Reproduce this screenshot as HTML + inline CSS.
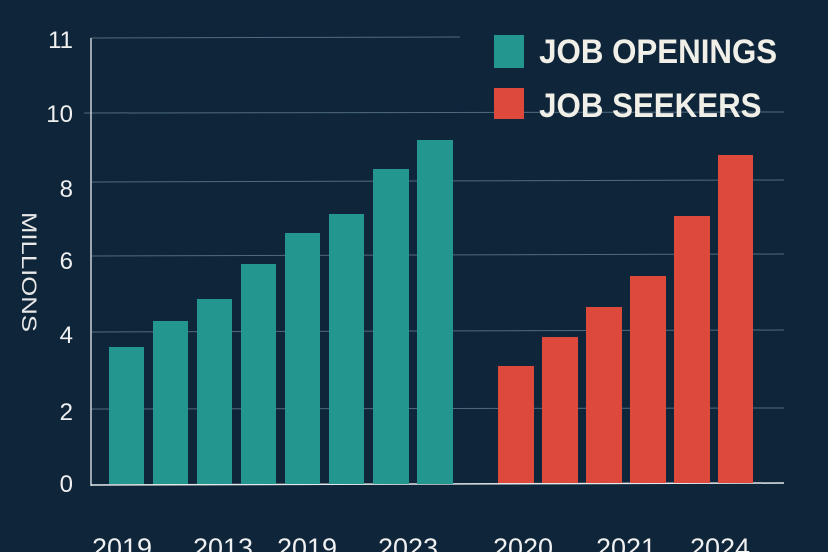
<!DOCTYPE html>
<html><head><meta charset="utf-8"><style>
html,body{margin:0;padding:0;background:#0f253a;}
svg{display:block}
</style></head><body>
<svg width="828" height="552" viewBox="0 0 828 552" xmlns="http://www.w3.org/2000/svg">
<rect width="828" height="552" fill="#0f253a"/>
<g stroke="#4f6c7e" stroke-width="1">
<line x1="91" y1="38" x2="460" y2="37"/>
<line x1="84" y1="113" x2="784" y2="112"/>
<line x1="91" y1="182" x2="784" y2="180"/>
<line x1="91" y1="256" x2="784" y2="254"/>
<line x1="91" y1="332" x2="784" y2="330"/>
<line x1="91" y1="409" x2="784" y2="408"/>
</g>
<line x1="91" y1="38" x2="91" y2="486" stroke="#c9d2d8" stroke-width="1.5"/>
<line x1="91" y1="485" x2="784" y2="483" stroke="#e4e8ea" stroke-width="1.5"/>
<g fill="#22968f">
<rect x="109" y="347" width="35" height="137"/>
<rect x="153" y="321" width="35" height="163"/>
<rect x="197" y="299" width="35" height="185"/>
<rect x="241" y="264" width="35" height="220"/>
<rect x="285" y="233" width="35" height="251"/>
<rect x="329" y="214" width="35" height="270"/>
<rect x="373" y="169" width="36" height="315"/>
<rect x="417" y="140" width="36" height="344"/>
</g>
<g fill="#dd4a3c">
<rect x="498" y="366" width="36" height="117"/>
<rect x="542" y="337" width="36" height="146"/>
<rect x="586" y="307" width="36" height="176"/>
<rect x="630" y="276" width="36" height="207"/>
<rect x="674" y="216" width="36" height="267"/>
<rect x="718" y="155" width="35" height="328"/>
</g>
<rect x="494" y="35" width="30" height="33" fill="#22968f"/>
<rect x="494" y="88" width="30" height="31" fill="#dd4a3c"/>
<g font-family="Liberation Sans, sans-serif" fill="#f0efe8" font-weight="bold" font-size="34" transform="scale(0.92,1)">
<text x="586" y="63">JOB OPENINGS</text>
<text x="586" y="117">JOB SEEKERS</text>
</g>
<g font-family="Liberation Sans, sans-serif" fill="#f0f0f0" font-size="24" text-anchor="end">
<text x="73" y="48">11</text>
<text x="73" y="122">10</text>
<text x="73" y="197">8</text>
<text x="73" y="269">6</text>
<text x="73" y="343">4</text>
<text x="73" y="420">2</text>
<text x="73" y="492">0</text>
</g>
<text x="0" y="0" transform="translate(22,272) rotate(90)" font-family="Liberation Sans, sans-serif" font-size="21" fill="#e8e8e8" text-anchor="middle" textLength="120" lengthAdjust="spacingAndGlyphs">MILLIONS</text>
<g font-family="Liberation Sans, sans-serif" fill="#f0f0f0" font-size="27">
<text x="92" y="557">2019</text>
<text x="193" y="557">2013</text>
<text x="277" y="557">2019</text>
<text x="378" y="557">2023</text>
<text x="493" y="557">2020</text>
<text x="596" y="557">2021</text>
<text x="690" y="557">2024</text>
</g>
</svg>
</body></html>
